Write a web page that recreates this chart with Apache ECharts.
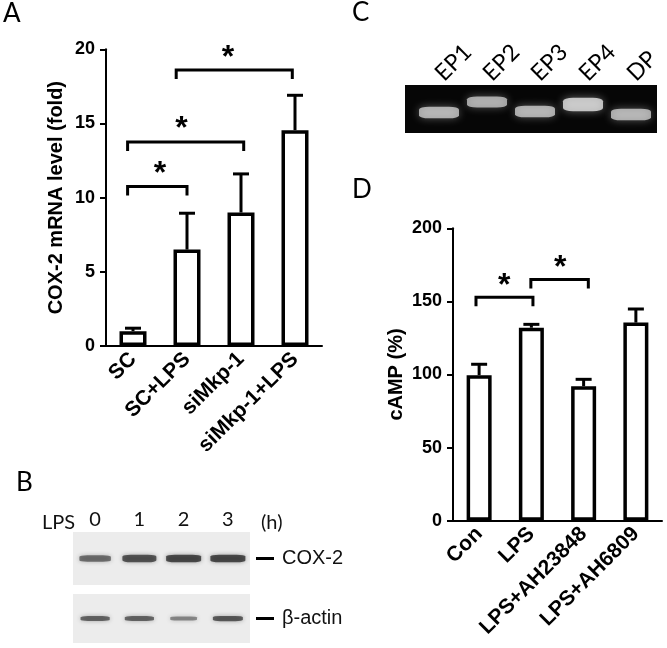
<!DOCTYPE html>
<html>
<head>
<meta charset="utf-8">
<script src="https://cdn.jsdelivr.net/npm/echarts@6/dist/echarts.min.js"></script>
<style>
  html, body { margin: 0; padding: 0; background: #fff; }
  #container { width: 667px; height: 648px; }
</style>
</head>
<body>
<div id="container"></div>
<script>
var dom = document.getElementById("container");
var myChart = echarts.init(dom);

// panel A - COX-2 mRNA
var aCategories = ['SC', 'SC+LPS', 'siMkp-1', 'siMkp-1+LPS'];
var aMeans = [1.0, 6.5, 9.0, 14.55];
var aErrors = [0.2, 2.45, 2.6, 2.35];
var aBrackets = [[10.75, -0.1, 1.0], [13.75, -0.1, 2.05], [18.6, 0.8, 2.95]]; // [y, from, to]
var aStars = [[12.15, 0.5], [15.15, 0.9], [19.95, 1.76]];

// panel D - cAMP
var dCategories = ['Con', 'LPS', 'LPS+AH23848', 'LPS+AH6809'];
var dMeans = [99.5, 132, 92, 135.5];
var dErrors = [7.5, 2.3, 4.7, 9.3];
var dBrackets = [[152.8, -0.06, 1.03], [165, 0.99, 2.09]];
var dStars = [[165.8, 0.48], [178.3, 1.55]];

// panel C - gel
var gelLanes = ['EP1', 'EP2', 'EP3', 'EP4', 'DP'];
var gelMigration = [27.5, 17, 26.5, 19.5, 29.5];
var gelIntensity = [0.75, 0.7, 0.75, 0.95, 0.75];

// panel B - western blot
var blotLanes = ['0', '1', '2', '3'];
var coxBands = [0.55, 0.8, 0.9, 0.9];
var actinBands = [0.65, 0.65, 0.35, 0.75];

var arial = 'Liberation Sans, Arial, sans-serif';
var calibri = 'Lato, Open Sans, sans-serif';

function errData(means, errs) {
    return means.map(function (m, i) { return [i, m, m + errs[i]]; });
}

function renderErr(params, api) {
    var p0 = api.coord([api.value(0), api.value(1)]);
    var p1 = api.coord([api.value(0), api.value(2)]);
    var st = {stroke: '#000', lineWidth: 3};
    return {
        type: 'group',
        children: [
            {type: 'line', shape: {x1: p0[0], y1: p0[1], x2: p1[0], y2: p1[1]}, style: st},
            {type: 'line', shape: {x1: p1[0] - 8, y1: p1[1], x2: p1[0] + 8, y2: p1[1]}, style: st}
        ]
    };
}

function renderBracket(params, api) {
    var base = api.coord([0, api.value(0)]);
    var band = api.size([1, 0])[0];
    var xa = base[0] + api.value(1) * band;
    var xb = base[0] + api.value(2) * band;
    var y = base[1];
    return {
        type: 'polyline',
        shape: {points: [[xa, y + 9], [xa, y], [xb, y], [xb, y + 9]]},
        style: {stroke: '#000', lineWidth: 3, fill: null, lineJoin: 'miter'}
    };
}

function renderStar(params, api) {
    var base = api.coord([0, api.value(0)]);
    var band = api.size([1, 0])[0];
    return {
        type: 'text',
        x: base[0] + api.value(1) * band,
        y: base[1] + 8,
        style: {text: '*', font: 'bold 32px ' + arial, fill: '#000', align: 'center', verticalAlign: 'middle'}
    };
}

function barAxes(cats, gi, max, interval, name, nameGap) {
    return {
        x: {
            type: 'category', gridIndex: gi, data: cats,
            axisLine: {lineStyle: {color: '#000', width: 2}},
            axisTick: {alignWithLabel: true, length: 7, lineStyle: {color: '#000', width: 2}},
            axisLabel: {rotate: 45, margin: 10, interval: 0, color: '#000', fontFamily: arial, fontWeight: 'bold', fontSize: 21}
        },
        y: {
            type: 'value', gridIndex: gi, min: 0, max: max, interval: interval,
            name: name, nameLocation: 'middle', nameGap: nameGap,
            nameTextStyle: {color: '#000', fontFamily: arial, fontWeight: 'bold', fontSize: 20},
            splitLine: {show: false},
            axisLine: {show: true, lineStyle: {color: '#000', width: 2}},
            axisTick: {show: true, length: 6, lineStyle: {color: '#000', width: 2}},
            axisLabel: {margin: 11, color: '#000', fontFamily: arial, fontWeight: 'bold', fontSize: 18}
        }
    };
}

var axA = barAxes(aCategories, 0, 20, 5, 'COX-2 mRNA level (fold)', 40);
var axD = barAxes(dCategories, 1, 200, 50, 'cAMP (%)', 47);

function hiddenAxis(gi, extra) {
    return Object.assign({gridIndex: gi, show: false}, extra);
}

function letter(t, x, y) {
    return {type: 'text', x: x, y: y, style: {text: t, font: '26px ' + calibri, fill: '#000', verticalAlign: 'middle'}};
}

option = {
    backgroundColor: '#fff',
    animation: false,
    grid: [
        {left: 106, top: 49.3, width: 216, height: 296.7, outerBoundsMode: 'none'},                // A
        {left: 453, top: 228.3, width: 209, height: 292.4, outerBoundsMode: 'none'},               // D
        {left: 405, top: 85, width: 252, height: 48, show: true, backgroundColor: '#060606', borderWidth: 0, outerBoundsMode: 'none'}, // gel bg
        {left: 415, top: 85, width: 240, height: 48, outerBoundsMode: 'none'},                     // gel lanes
        {left: 73, top: 532, width: 177, height: 53, show: true, backgroundColor: '#ececec', borderWidth: 0, outerBoundsMode: 'none'}, // COX-2 blot
        {left: 73, top: 594, width: 177, height: 49, show: true, backgroundColor: '#ececec', borderWidth: 0, outerBoundsMode: 'none'}  // actin blot
    ],
    xAxis: [
        axA.x, axD.x,
        hiddenAxis(2, {type: 'value', min: 0, max: 1}),
        {
            type: 'category', gridIndex: 3, data: gelLanes, position: 'top',
            axisLine: {show: false}, axisTick: {show: false},
            axisLabel: {rotate: 45, margin: 8, interval: 0, color: '#000', fontFamily: calibri, fontSize: 23}
        },
        {
            type: 'category', gridIndex: 4, data: blotLanes, position: 'top',
            axisLine: {show: false}, axisTick: {show: false},
            axisLabel: {margin: 2, color: '#111', fontFamily: calibri, fontSize: 20}
        },
        hiddenAxis(5, {type: 'category', data: blotLanes})
    ],
    yAxis: [
        axA.y, axD.y,
        hiddenAxis(2, {type: 'value', min: 0, max: 1}),
        hiddenAxis(3, {type: 'value', min: 0, max: 48, inverse: true}),
        {
            type: 'category', gridIndex: 4, data: ['COX-2'], position: 'right', offset: 6,
            axisLine: {show: false},
            axisTick: {show: true, alignWithLabel: true, length: 18, lineStyle: {color: '#000', width: 3}},
            axisLabel: {margin: 26, color: '#111', fontFamily: arial, fontSize: 20}
        },
        {
            type: 'category', gridIndex: 5, data: ['β-actin'], position: 'right', offset: 6,
            axisLine: {show: false},
            axisTick: {show: true, alignWithLabel: true, length: 18, lineStyle: {color: '#000', width: 3}},
            axisLabel: {margin: 26, color: '#111', fontFamily: arial, fontSize: 20}
        }
    ],
    series: [
        {
            type: 'bar', xAxisIndex: 0, yAxisIndex: 0, data: aMeans, barWidth: 27,
            itemStyle: {color: '#fff', borderColor: '#000', borderWidth: 3.5}
        },
        {type: 'custom', xAxisIndex: 0, yAxisIndex: 0, data: errData(aMeans, aErrors), encode: {x: 0, y: [1, 2]}, renderItem: renderErr, z: 3},
        {type: 'custom', xAxisIndex: 0, yAxisIndex: 0, data: aBrackets.map(function (b) { return b.concat([0]); }), encode: {x: 3, y: 0}, renderItem: renderBracket, z: 3},
        {type: 'custom', xAxisIndex: 0, yAxisIndex: 0, data: aStars.map(function (s) { return s.concat([0]); }), encode: {x: 2, y: 0}, renderItem: renderStar, z: 3},

        {
            type: 'bar', xAxisIndex: 1, yAxisIndex: 1, data: dMeans, barWidth: 25,
            itemStyle: {color: '#fff', borderColor: '#000', borderWidth: 3.5}
        },
        {type: 'custom', xAxisIndex: 1, yAxisIndex: 1, data: errData(dMeans, dErrors), encode: {x: 0, y: [1, 2]}, renderItem: renderErr, z: 3},
        {type: 'custom', xAxisIndex: 1, yAxisIndex: 1, data: dBrackets.map(function (b) { return b.concat([0]); }), encode: {x: 3, y: 0}, renderItem: renderBracket, z: 3},
        {type: 'custom', xAxisIndex: 1, yAxisIndex: 1, data: dStars.map(function (s) { return s.concat([0]); }), encode: {x: 2, y: 0}, renderItem: renderStar, z: 3},

        {
            type: 'scatter', xAxisIndex: 3, yAxisIndex: 3, symbol: 'roundRect',
            data: gelLanes.map(function (l, i) { return [i, gelMigration[i], gelIntensity[i]]; }),
            symbolSize: function (v) { return [40, 4 + 10 * v[2]]; },
            itemStyle: {
                color: function (p) { return 'rgba(235,235,235,' + (0.35 + 0.65 * p.value[2]) + ')'; },
                shadowBlur: 8, shadowColor: 'rgba(255,255,255,0.5)'
            }
        },
        {
            type: 'scatter', xAxisIndex: 4, yAxisIndex: 4, symbol: 'roundRect',
            data: coxBands.map(function (v, i) { return [i, 0, v]; }),
            symbolSize: function (v) { return [26 + 10 * v[2], 5 + 3 * v[2]]; },
            itemStyle: {
                color: function (p) { return 'rgba(25,25,25,' + (0.3 + 0.65 * p.value[2]) + ')'; },
                shadowBlur: 4, shadowColor: 'rgba(40,40,40,0.6)'
            }
        },
        {
            type: 'scatter', xAxisIndex: 5, yAxisIndex: 5, symbol: 'roundRect',
            data: actinBands.map(function (v, i) { return [i, 0, v]; }),
            symbolSize: function (v) { return [24 + 8 * v[2], 3 + 3 * v[2]]; },
            itemStyle: {
                color: function (p) { return 'rgba(25,25,25,' + (0.3 + 0.65 * p.value[2]) + ')'; },
                shadowBlur: 4, shadowColor: 'rgba(40,40,40,0.6)'
            }
        }
    ],
    graphic: [
        letter('A', 3, 14),
        letter('B', 16, 483),
        letter('C', 352, 13),
        letter('D', 352, 190),
        {type: 'text', x: 42, y: 523, style: {text: 'LPS', font: '20px ' + calibri, fill: '#111', verticalAlign: 'middle'}},
        {type: 'text', x: 261, y: 523, style: {text: '(h)', font: '20px ' + calibri, fill: '#111', verticalAlign: 'middle'}}
    ]
};

if (option && typeof option === "object") {
    myChart.setOption(option, true);
}
</script>
</body>
</html>
